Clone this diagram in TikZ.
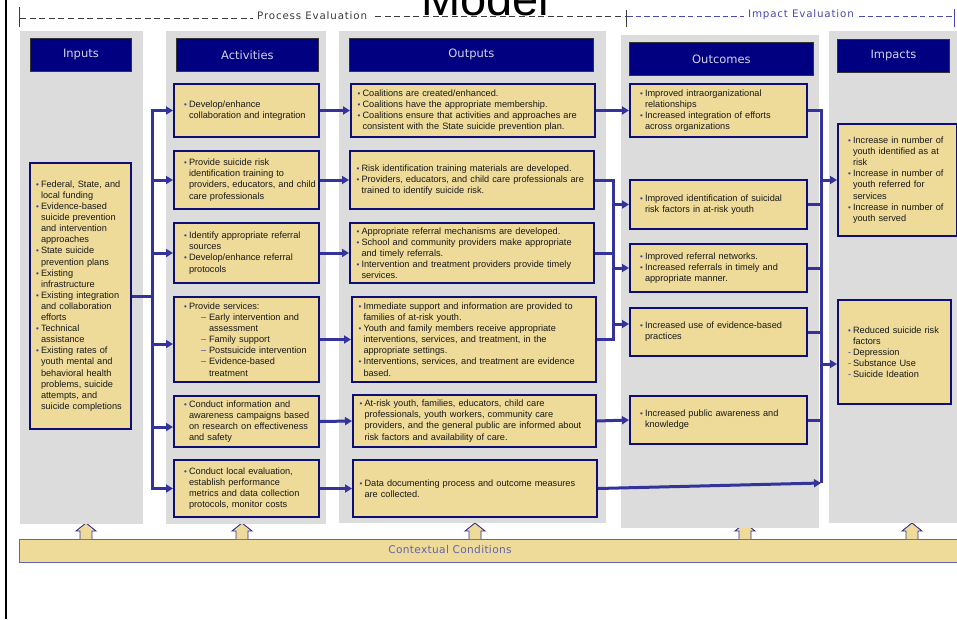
\documentclass[tikz,border=0pt]{standalone}
\usepackage{fontspec}
\setmainfont{Liberation Sans}
\newfontfamily\hdfont{DejaVu Sans}
\usetikzlibrary{arrows.meta}
\definecolor{ylw}{RGB}{238,219,154}
\definecolor{gry}{RGB}{220,220,220}
\definecolor{navy}{RGB}{0,0,128}
\definecolor{bdr}{RGB}{14,14,120}
\definecolor{cn}{RGB}{51,51,155}
\definecolor{bul}{RGB}{60,60,170}
\definecolor{hdtxt}{RGB}{212,212,240}
\definecolor{txt}{RGB}{25,25,25}
\definecolor{ctxc}{RGB}{100,100,170}
\definecolor{impc}{RGB}{72,72,180}
\definecolor{pec}{RGB}{60,60,60}
\newlength\bulx
\newcommand\bu{\makebox[5pt][l]{\textcolor{bul}{\fontsize{8}{6}\selectfont •}}}
\newcommand\bl[1]{\mbox{\hspace*{\bulx}\bu #1}}
\newcommand\cl[1]{\mbox{\hspace*{\bulx}\hspace*{5pt}#1}}
\newcommand\dl[1]{\mbox{\hspace*{\bulx}\hspace*{17pt}\makebox[8pt][l]{\textcolor{bul}{–}}#1}}
\newcommand\dcl[1]{\mbox{\hspace*{\bulx}\hspace*{25pt}#1}}
\newcommand\hl[1]{\mbox{\hspace*{\bulx}\makebox[5pt][l]{\textcolor{bul}{-}}#1}}
\newcommand\mkbox[7]{%
  \pgfmathsetmacro\mybw{#5-#3}\pgfmathsetmacro\mybh{#6-#4}%
  \node[#1, minimum width=\mybw pt, minimum height=\mybh pt, text width=\mybw pt, anchor=north west] (#2) at (#3,#4) {#7};}
\begin{document}
\begin{tikzpicture}[x=1pt,y=-1pt,
  ybox/.style={draw=bdr, fill=ylw, line width=2pt, inner sep=0pt, align=left, text=txt,
    font=\fontsize{9.2}{11.1}\selectfont},
  hdr/.style={draw=black!80, fill=navy, line width=0.8pt, inner sep=0pt, align=center, text=hdtxt,
    font=\hdfont\fontsize{11.5}{13}\selectfont},
  bx/.code={\setlength\bulx{#1}},
  conn/.style={draw=cn, line width=3pt},
  arr/.style={conn, -{Triangle[length=7pt,width=8pt]}},
  colbg/.style={fill=gry},
  uparr/.style={fill=ylw, draw=cn, line width=0.9pt}]
\useasboundingbox (0,0) rectangle (957,619);
\fill[white] (0,0) rectangle (957,619);

% left rule
\draw[black, line width=2pt] (6,0) -- (6,619);

% title and evaluation bands
\node[anchor=base, inner sep=0, font=\fontsize{47}{50}\selectfont] (title) at (485,15) {Model};
\node[anchor=base west, inner sep=0, text=pec, font=\hdfont\fontsize{10.3}{12}\selectfont\addfontfeature{LetterSpace=8}] (pe) at (257,19) {Process Evaluation};
\node[anchor=base west, inner sep=0, text=impc, font=\hdfont\fontsize{10.3}{12}\selectfont\addfontfeature{LetterSpace=8}] (ie) at (748,17.5) {Impact Evaluation};
\draw[pec, line width=0.8pt] (19,7) -- (19,27);
\draw[pec, line width=0.8pt] (626,10) -- (626,27);
\draw[impc, line width=1pt] (954,9) -- (954,27);
\draw[pec, line width=0.8pt, dash pattern=on 6pt off 3.6pt] (20,18) -- (253,18);
\draw[pec, line width=0.8pt, dash pattern=on 6pt off 3.6pt] (375,16.5) -- (625,16.5);
\draw[impc, line width=0.9pt, dash pattern=on 5.5pt off 3.2pt] (627,16) -- (744,16);
\draw[impc, line width=0.9pt, dash pattern=on 5.5pt off 3.2pt] (859,16) -- (953,16);

% contextual conditions bar and up arrows
\filldraw[fill=ylw, draw=ctxc, line width=0.9pt] (19,539) rectangle (962,562);
\node[anchor=base, inner sep=0, text=ctxc, font=\hdfont\fontsize{10.6}{12}\selectfont\addfontfeature{LetterSpace=3}] (ctx) at (450,553.5) {Contextual Conditions};
\foreach \x in {86,242,475,745,912}
  \filldraw[uparr] (\x-6,539) -- (\x-6,531) -- (\x-10,531) -- (\x,523) -- (\x+10,531) -- (\x+6,531) -- (\x+6,539);

% columns
\fill[colbg] (20,31) rectangle (143,524);
\fill[colbg] (166,31) rectangle (326,524);
\fill[colbg] (339,31) rectangle (606,523);
\fill[colbg] (621,35) rectangle (819,528);
\fill[colbg] (829,31) rectangle (960,523);

% headers
\mkbox{hdr}{hin}{30}{38}{131}{71}{Inputs}
\mkbox{hdr}{hac}{176}{38}{318}{71}{Activities}
\mkbox{hdr}{hou}{349}{38}{593}{71}{Outputs}
\mkbox{hdr}{hoc}{629}{42}{813}{75}{Outcomes}
\mkbox{hdr}{him}{837}{39}{949}{72}{Impacts}

% inputs
\mkbox{ybox,bx=6pt}{in}{29}{162}{130}{428}{\bl{Federal, State, and}\\\cl{local funding}\\\bl{Evidence-based}\\\cl{suicide prevention}\\\cl{and intervention}\\\cl{approaches}\\\bl{State suicide}\\\cl{prevention plans}\\\bl{Existing}\\\cl{infrastructure}\\\bl{Existing integration}\\\cl{and collaboration}\\\cl{efforts}\\\bl{Technical}\\\cl{assistance}\\\bl{Existing rates of}\\\cl{youth mental and}\\\cl{behavioral health}\\\cl{problems, suicide}\\\cl{attempts, and}\\\cl{suicide completions}}

% activities
\mkbox{ybox,bx=10pt}{a1}{173}{83}{318}{136}{\bl{Develop/enhance}\\\cl{collaboration and integration}}
\mkbox{ybox,bx=10pt}{a2}{173}{150}{318}{208}{\bl{Provide suicide risk}\\\cl{identification training to}\\\cl{providers, educators, and child}\\\cl{care professionals}}
\mkbox{ybox,bx=10pt}{a3}{173}{222}{318}{282}{\bl{Identify appropriate referral}\\\cl{sources}\\\bl{Develop/enhance referral}\\\cl{protocols}}
\mkbox{ybox,bx=10pt}{a4}{173}{296}{318}{381}{\bl{Provide services:}\\\dl{Early intervention and}\\\dcl{assessment}\\\dl{Family support}\\\dl{Postsuicide intervention}\\\dl{Evidence-based}\\\dcl{treatment}}
\mkbox{ybox,bx=10pt}{a5}{173}{395}{318}{446}{\bl{Conduct information and}\\\cl{awareness campaigns based}\\\cl{on research on effectiveness}\\\cl{and safety}}
\mkbox{ybox,bx=10pt}{a6}{173}{459}{318}{516}{\bl{Conduct local evaluation,}\\\cl{establish performance}\\\cl{metrics and data collection}\\\cl{protocols, monitor costs}}

% outputs
\mkbox{ybox,bx=6.5pt}{o1}{350}{83}{594}{136}{\bl{Coalitions are created/enhanced.}\\\bl{Coalitions have the appropriate membership.}\\\bl{Coalitions ensure that activities and approaches are}\\\cl{consistent with the State suicide prevention plan.}}
\mkbox{ybox,bx=6.5pt}{o2}{349}{150}{593}{208}{\bl{Risk identification training materials are developed.}\\\bl{Providers, educators, and child care professionals are}\\\cl{trained to identify suicide risk.}}
\mkbox{ybox,bx=6.5pt}{o3}{349}{222}{593}{282}{\bl{Appropriate referral mechanisms are developed.}\\\bl{School and community providers make appropriate}\\\cl{and timely referrals.}\\\bl{Intervention and treatment providers provide timely}\\\cl{services.}}
\mkbox{ybox,bx=6.5pt}{o4}{351}{296}{595}{381}{\bl{Immediate support and information are provided to}\\\cl{families of at-risk youth.}\\\bl{Youth and family members receive appropriate}\\\cl{interventions, services, and treatment, in the}\\\cl{appropriate settings.}\\\bl{Interventions, services, and treatment are evidence}\\\cl{based.}}
\mkbox{ybox,bx=6.5pt}{o5}{352}{394}{595}{446}{\bl{At-risk youth, families, educators, child care}\\\cl{professionals, youth workers, community care}\\\cl{providers, and the general public are informed about}\\\cl{risk factors and availability of care.}}
\mkbox{ybox,bx=6.5pt}{o6}{352}{459}{596}{516}{\bl{Data documenting process and outcome measures}\\\cl{are collected.}}

% outcomes
\mkbox{ybox,bx=10pt}{c1}{629}{83}{806}{136}{\bl{Improved intraorganizational}\\\cl{relationships}\\\bl{Increased integration of efforts}\\\cl{across organizations}}
\mkbox{ybox,bx=10pt}{c2}{629}{179}{806}{228}{\bl{Improved identification of suicidal}\\\cl{risk factors in at-risk youth}}
\mkbox{ybox,bx=10pt}{c3}{629}{243}{806}{291}{\bl{Improved referral networks.}\\\bl{Increased referrals in timely and}\\\cl{appropriate manner.}}
\mkbox{ybox,bx=10pt}{c4}{629}{307}{806}{355}{\bl{Increased use of evidence-based}\\\cl{practices}}
\mkbox{ybox,bx=10pt}{c5}{629}{395}{806}{443}{\bl{Increased public awareness and}\\\cl{knowledge}}

% impacts
\mkbox{ybox,bx=10pt}{i1}{837}{123}{956}{235}{\bl{Increase in number of}\\\cl{youth identified as at}\\\cl{risk}\\\bl{Increase in number of}\\\cl{youth referred for}\\\cl{services}\\\bl{Increase in number of}\\\cl{youth served}}
\mkbox{ybox,bx=10pt}{i2}{837}{299}{950}{403}{\bl{Reduced suicide risk}\\\cl{factors}\\\hl{Depression}\\\hl{Substance Use}\\\hl{Suicide Ideation}}

% connectors: inputs -> activities
\coordinate (b1) at (152,0);
\coordinate (a4in) at ([yshift=-4.5pt]a4.west);
\coordinate (a5in) at ([yshift=-5.5pt]a5.west);
\draw[conn] (in.east) -- (b1 |- in.east);
\draw[arr] (b1 |- a4.west) -- (b1 |- a1.west) -- (a1.west);
\draw[arr] (b1 |- a4.west) -- (b1 |- a6.west) -- (a6.west);
\draw[arr] (b1 |- a2.west) -- (a2.west);
\draw[arr] (b1 |- a3.west) -- (a3.west);
\draw[arr] (b1 |- a4in) -- (a4in);
\draw[arr] (b1 |- a5in) -- (a5in);

% activities -> outputs
\draw[arr] (a1.east) -- (o1.west);
\draw[arr] (a2.east) -- (o2.west);
\draw[arr] (a3.east) -- (o3.west);
\draw[arr] (a4.east) -- (o4.west);
\draw[arr] (a5.east) -- (o5.west);
\draw[arr] (a6.east) -- (o6.west);

% outputs -> outcomes
\coordinate (b2) at (613,0);
\coordinate (c4in) at ([yshift=8pt]c4.west);
\draw[arr] (o1.east) -- (c1.west);
\draw[conn] (o2.east) -- (b2 |- o2.east) -- (b2 |- o4.east) -- (o4.east);
\draw[conn] (o3.east) -- (b2 |- o3.east);
\draw[arr] (b2 |- c2.west) -- (c2.west);
\draw[arr] (b2 |- c3.west) -- (c3.west);
\draw[arr] (b2 |- c4in) -- (c4in);
\draw[arr] (o5.east) -- (c5.west);

% outcomes -> impacts
\coordinate (b3) at (821,0);
\coordinate (o6end) at (821,483);
\coordinate (i2in) at ([yshift=-12pt]i2.west);
\draw[conn] (c1.east) -- (b3 |- c1.east) -- (b3 |- o6end);
\draw[conn] (c2.east) -- (b3 |- c2.east);
\draw[conn] (c3.east) -- (b3 |- c3.east);
\draw[conn] (c4.east) -- (b3 |- c4.east);
\draw[conn] (c5.east) -- (b3 |- c5.east);
\draw[arr] (b3 |- i1.west) -- (i1.west);
\draw[arr] (b3 |- i2in) -- (i2in);
\draw[arr] (o6.east) -- (o6end);
\end{tikzpicture}
\end{document}
